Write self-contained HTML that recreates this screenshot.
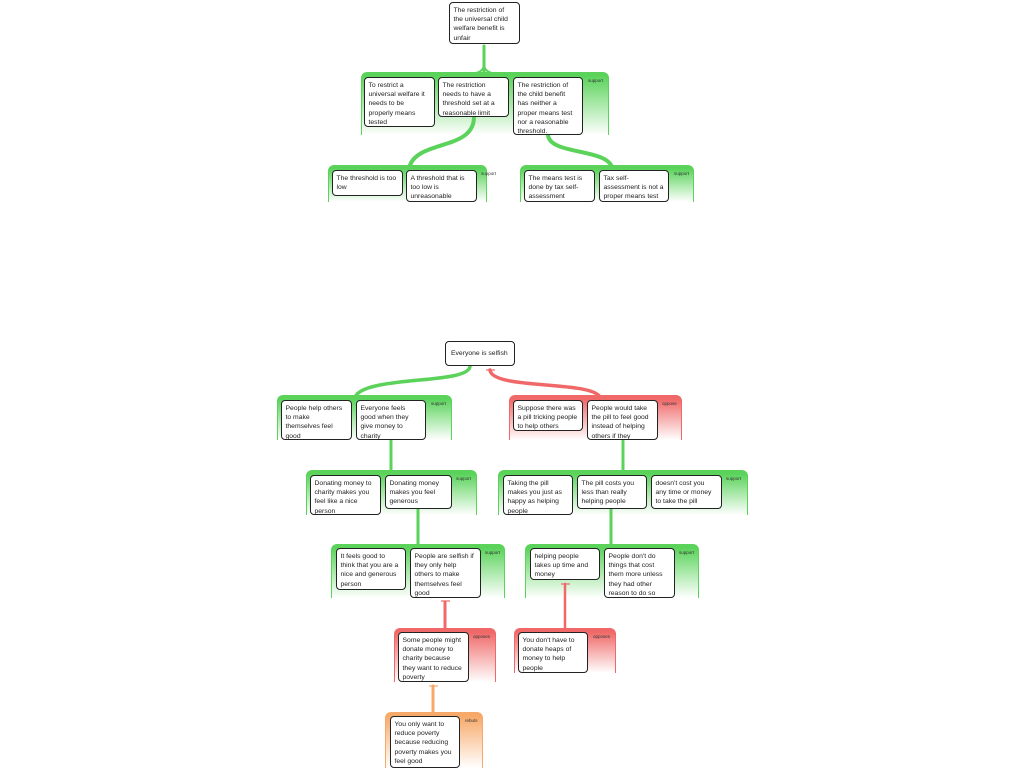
<!DOCTYPE html>
<html><head><meta charset="utf-8"><style>
body{margin:0;width:1024px;height:768px;background:#fff;position:relative;overflow:hidden;font-family:"Liberation Sans",sans-serif}
.g{position:absolute;border-top:4px solid;border-left:1.5px solid;border-right:1.5px solid;border-radius:6px 6px 0 0;box-sizing:border-box}
.gs{border-color:#5bd35b;background:linear-gradient(#5bd35b 0%,#fff 100%)}
.gr{border-color:#f06868;background:linear-gradient(#f06868 0%,#fff 100%)}
.go{border-color:#f7a96a;background:linear-gradient(#f7a96a 0%,#fff 100%)}
.l{position:absolute;font-size:4.5px;color:#333}
.b{position:absolute;background:#fff;border:1.3px solid #222;border-radius:4px;box-sizing:border-box;font-size:6.8px;line-height:9.2px;color:#222;padding:3px 2px 3px 3.5px;white-space:nowrap;overflow:hidden}
svg{position:absolute;left:0;top:0}
</style></head><body>

<div class="g gs" style="left:361px;top:72px;width:248px;height:63px"></div><div class="l" style="left:588px;top:78px">support</div>
<div class="g gs" style="left:328px;top:165px;width:159px;height:37px"></div><div class="l" style="left:481px;top:171px">support</div>
<div class="g gs" style="left:520px;top:165px;width:174px;height:37px"></div><div class="l" style="left:674px;top:171px">support</div>
<div class="g gs" style="left:277px;top:395px;width:175px;height:45px"></div><div class="l" style="left:431px;top:401px">support</div>
<div class="g gr" style="left:509px;top:395px;width:173px;height:45px"></div><div class="l" style="left:662px;top:401px">oppose</div>
<div class="g gs" style="left:306px;top:470px;width:171px;height:45px"></div><div class="l" style="left:456px;top:476px">support</div>
<div class="g gs" style="left:498px;top:470px;width:250px;height:45px"></div><div class="l" style="left:726px;top:476px">support</div>
<div class="g gs" style="left:331px;top:544px;width:174px;height:54px"></div><div class="l" style="left:485px;top:550px">support</div>
<div class="g gs" style="left:525px;top:544px;width:174px;height:54px"></div><div class="l" style="left:679px;top:550px">support</div>
<div class="g gr" style="left:394px;top:628px;width:102px;height:54px"></div><div class="l" style="left:473px;top:634px">opposes</div>
<div class="g gr" style="left:514px;top:628px;width:102px;height:45px"></div><div class="l" style="left:593px;top:634px">opposes</div>
<div class="g go" style="left:385px;top:712px;width:98px;height:56px"></div><div class="l" style="left:465px;top:718px">rebuts</div>

<svg width="1024" height="768">
<g fill="none" stroke-linecap="round">
<path d="M484 46 L484 72" stroke="#5bd35b" stroke-width="3"/>
<path d="M484 64 C484 70 480 72 476 73 M484 64 C484 70 488 72 492 73" stroke="#5bd35b" stroke-width="2"/>
<path d="M474 117 C474 150 420 140 410 165" stroke="#5bd35b" stroke-width="4"/>
<path d="M548 135 C550 155 605 148 612 167" stroke="#5bd35b" stroke-width="4"/>
<path d="M470 366 C470 385 365 375 355 397" stroke="#5bd35b" stroke-width="3.5"/>
<path d="M490 370 C492 390 590 380 600 397" stroke="#f06868" stroke-width="3.5"/>
<path d="M391 440 L391 472" stroke="#5bd35b" stroke-width="3"/>
<path d="M623 440 L623 472" stroke="#5bd35b" stroke-width="3"/>
<path d="M418 509 L418 546" stroke="#5bd35b" stroke-width="3"/>
<path d="M611 509 L611 546" stroke="#5bd35b" stroke-width="3"/>
<path d="M445 602 L445 630" stroke="#f06868" stroke-width="3"/>
<path d="M565 584 L565 630" stroke="#f06868" stroke-width="2.5"/>
<path d="M433 686 L433 714" stroke="#f7a96a" stroke-width="3"/>
</g>
<g stroke-width="1.2">
<path d="M486 370 L495 370" stroke="#f06868"/>
<path d="M441 601 L450 601" stroke="#f06868"/>
<path d="M561 584 L570 584" stroke="#f06868"/>
<path d="M429 686 L438 686" stroke="#f7a96a"/>
</g>
</svg>

<div class="b" style="left:449px;top:2px;width:71px;height:42px">The restriction of<br>the universal child<br>welfare benefit is<br>unfair</div>
<div class="b" style="left:364px;top:77px;width:71px;height:50px">To restrict a<br>universal welfare it<br>needs to be<br>properly means<br>tested</div>
<div class="b" style="left:438px;top:77px;width:71px;height:40px">The restriction<br>needs to have a<br>threshold set at a<br>reasonable limit</div>
<div class="b" style="left:513px;top:77px;width:70px;height:58px">The restriction of<br>the child benefit<br>has neither a<br>proper means test<br>nor a reasonable<br>threshold.</div>
<div class="b" style="left:332px;top:170px;width:71px;height:26px">The threshold is too<br>low</div>
<div class="b" style="left:406px;top:170px;width:71px;height:32px">A threshold that is<br>too low is<br>unreasonable</div>
<div class="b" style="left:524px;top:170px;width:71px;height:32px">The means test is<br>done by tax self-<br>assessment</div>
<div class="b" style="left:599px;top:170px;width:70px;height:32px">Tax self-<br>assessment is not a<br>proper means test</div>

<div class="b" style="left:445px;top:341px;width:70px;height:25px;padding-top:7px;padding-left:5px">Everyone is selfish</div>
<div class="b" style="left:281px;top:400px;width:71px;height:40px">People help others<br>to make<br>themselves feel<br>good</div>
<div class="b" style="left:356px;top:400px;width:70px;height:40px">Everyone feels<br>good when they<br>give money to<br>charity</div>
<div class="b" style="left:513px;top:400px;width:70px;height:31px">Suppose there was<br>a pill tricking people<br>to help others</div>
<div class="b" style="left:587px;top:400px;width:71px;height:40px">People would take<br>the pill to feel good<br>instead of helping<br>others if they</div>
<div class="b" style="left:310px;top:475px;width:71px;height:40px">Donating money to<br>charity makes you<br>feel like a nice<br>person</div>
<div class="b" style="left:385px;top:475px;width:67px;height:34px">Donating money<br>makes you feel<br>generous</div>
<div class="b" style="left:503px;top:475px;width:70px;height:40px">Taking the pill<br>makes you just as<br>happy as helping<br>people</div>
<div class="b" style="left:577px;top:475px;width:70px;height:34px">The pill costs you<br>less than really<br>helping people</div>
<div class="b" style="left:651px;top:475px;width:71px;height:34px">doesn't cost you<br>any time or money<br>to take the pill</div>
<div class="b" style="left:336px;top:548px;width:70px;height:42px">It feels good to<br>think that you are a<br>nice and generous<br>person</div>
<div class="b" style="left:410px;top:548px;width:71px;height:50px">People are selfish if<br>they only help<br>others to make<br>themselves feel<br>good</div>
<div class="b" style="left:530px;top:548px;width:70px;height:32px">helping people<br>takes up time and<br>money</div>
<div class="b" style="left:604px;top:548px;width:71px;height:50px">People don't do<br>things that cost<br>them more unless<br>they had other<br>reason to do so</div>
<div class="b" style="left:398px;top:632px;width:71px;height:50px">Some people might<br>donate money to<br>charity because<br>they want to reduce<br>poverty</div>
<div class="b" style="left:518px;top:632px;width:70px;height:41px">You don't have to<br>donate heaps of<br>money to help<br>people</div>
<div class="b" style="left:390px;top:716px;width:70px;height:52px">You only want to<br>reduce poverty<br>because reducing<br>poverty makes you<br>feel good</div>
</body></html>
